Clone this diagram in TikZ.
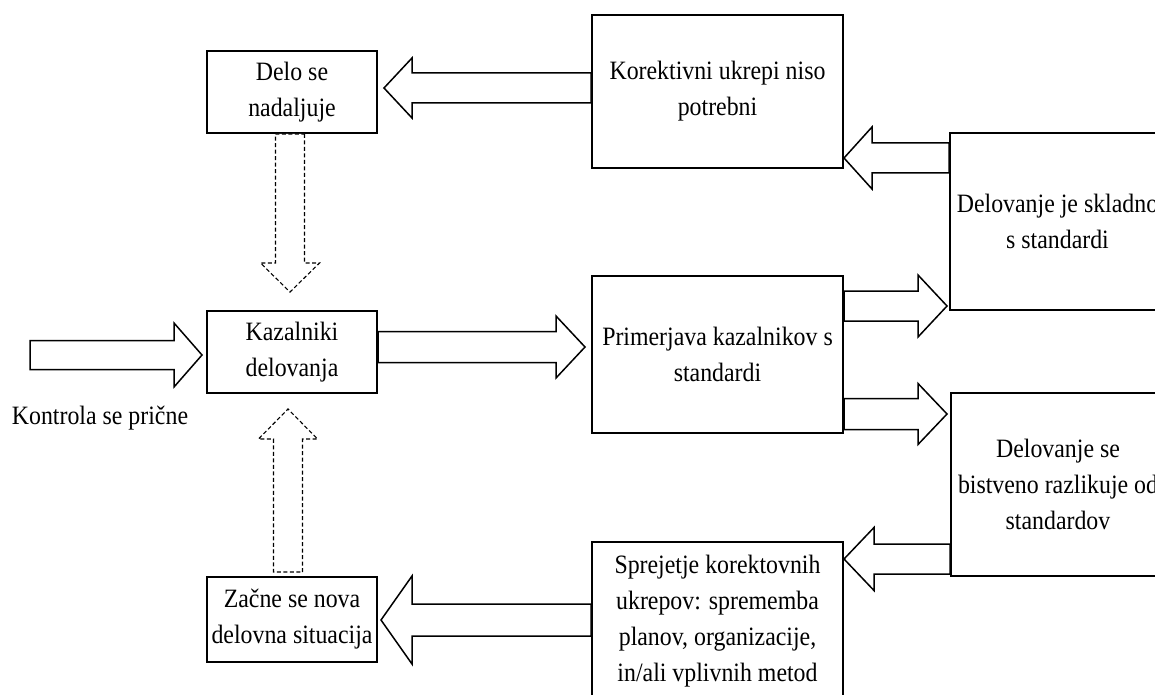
\documentclass[tikz,border=0pt]{standalone}
\usepackage{fontspec}
\setmainfont[FakeStretch=0.9]{Liberation Serif}
\usetikzlibrary{calc}

% horizontal block arrow: style, tail point (x used), tip point, shaft half-height,
% head half-height, head length, direction (1 = to the right, -1 = to the left)
\newcommand{\hblock}[7]{%
  \draw[#1] let \p1=#2, \p2=#3 in
    (\x1,{\y2+#4pt}) -- ({\x2-(#7)*#6pt},{\y2+#4pt}) -- ({\x2-(#7)*#6pt},{\y2+#5pt})
    -- (\p2) -- ({\x2-(#7)*#6pt},{\y2-#5pt}) -- ({\x2-(#7)*#6pt},{\y2-#4pt})
    -- (\x1,{\y2-#4pt}) -- cycle;}
% vertical block arrow: style, tail point (y used), tip point, shaft half-width,
% head half-width, head length, direction (1 = upwards, -1 = downwards)
\newcommand{\vblock}[7]{%
  \draw[#1] let \p1=#2, \p2=#3 in
    ({\x2+#4pt},\y1) -- ({\x2+#4pt},{\y2-(#7)*#6pt}) -- ({\x2+#5pt},{\y2-(#7)*#6pt})
    -- (\p2) -- ({\x2-#5pt},{\y2-(#7)*#6pt}) -- ({\x2-#4pt},{\y2-(#7)*#6pt})
    -- ({\x2-#4pt},\y1) -- cycle;}

\tikzset{
  box/.style={draw=black, line width=2pt, fill=white, inner sep=0pt,
    align=center, font=\fontsize{26.5}{36}\selectfont},
  solidarrow/.style={draw=black, line width=1.5pt, fill=white, line join=miter},
  dasharrow/.style={draw=black, line width=1.1pt, dash pattern=on 4pt off 2.5pt,
    fill=white, line join=miter},
  plain/.style={inner sep=0pt, align=center, font=\fontsize{26.5}{36}\selectfont}
}

\begin{document}
\begin{tikzpicture}[x=1pt, y=-1pt]
  \useasboundingbox (0,0) rectangle (1155,695);
  \clip (0,0) rectangle (1155,695);
  \fill[white] (0,0) rectangle (1155,695);

  % boxes
  \node[box, minimum width=170pt, minimum height=82pt] (A) at (292,92) {Delo se\\nadaljuje};
  \node[box, minimum width=251pt, minimum height=153pt] (B) at (717.5,91.5) {Korektivni ukrepi niso\\potrebni};
  \node[box, minimum width=215pt, minimum height=177pt] (D) at (1057.5,221.5) {Delovanje je skladno\\s standardi};
  \node[box, minimum width=170pt, minimum height=82pt] (K) at (292,352) {Kazalniki\\delovanja};
  \node[box, minimum width=251pt, minimum height=157pt] (C) at (717.5,354.5) {Primerjava kazalnikov s\\standardi};
  \node[box, minimum width=214pt, minimum height=183pt] (E) at (1058,484.5) {Delovanje se\\bistveno razlikuje od\\standardov};
  \node[box, minimum width=251pt, minimum height=158pt] (F) at (717.5,621) {Sprejetje korektovnih\\ukrepov: sprememba\\planov, organizacije,\\in/ali vplivnih metod};
  \node[box, minimum width=170pt, minimum height=85pt] (G) at (292,619.5) {Začne se nova\\delovna situacija};

  \node[plain] (start label) at (100,418) {Kontrola se prične};
  \coordinate (start) at (30,355);

  % solid block arrows
  \hblock{solidarrow}{(B.west)}{($(A.east)+(6,-4)$)}{15}{30}{28}{-1}
  \hblock{solidarrow}{(start)}{($(K.west)+(-4,3)$)}{14.5}{32}{28}{1}
  \hblock{solidarrow}{(K.east)}{($(C.west)+(-6,-7.5)$)}{15.5}{31}{29}{1}
  \hblock{solidarrow}{(D.west)}{($(B.south east)+(0,-11)$)}{15}{31}{28}{-1}
  \hblock{solidarrow}{(C.east)}{($(D.south west)+(-2,-5)$)}{15}{31}{29}{1}
  \hblock{solidarrow}{(C.east)}{($(E.north west)+(-3,22)$)}{15.5}{30.5}{29}{1}
  \hblock{solidarrow}{(E.west)}{($(F.north east)+(0,18)$)}{15}{31.5}{30}{-1}
  \hblock{solidarrow}{(F.west)}{($(G.east)+(3,0.5)$)}{16}{44}{31}{-1}

  % dashed block arrows
  \vblock{dasharrow}{(A.south)}{($(K.north)+(-2,-18)$)}{14.5}{29.5}{29}{-1}
  \vblock{dasharrow}{($(G.north)+(0,-4)$)}{($(K.south)+(-4,15)$)}{14.5}{29.5}{30}{1}
\end{tikzpicture}
\end{document}
